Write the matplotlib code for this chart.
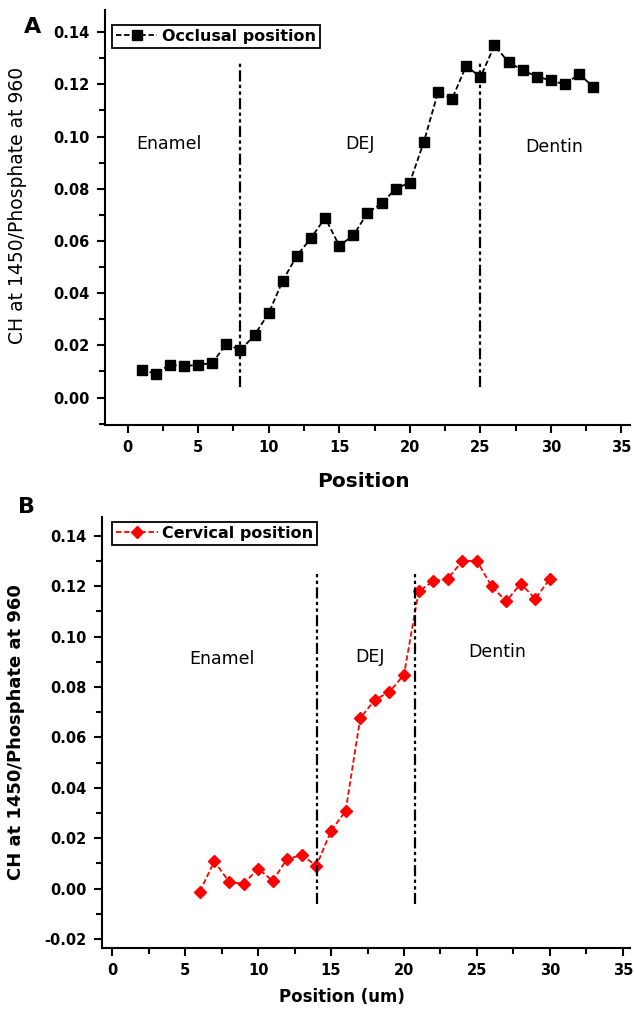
import matplotlib.pyplot as plt
import matplotlib.ticker as ticker

# Data
# Panel A: occlusal position
occlusal_pos = list(range(1, 34))
occlusal_vals = [0.0105, 0.0092, 0.0126, 0.0120, 0.0126, 0.0132, 0.0206, 0.0181,
                 0.0240, 0.0323, 0.0448, 0.0544, 0.0611, 0.0689, 0.0582, 0.0621,
                 0.0708, 0.0744, 0.0800, 0.0824, 0.0980, 0.1170, 0.1145, 0.1272,
                 0.1227, 0.1349, 0.1285, 0.1254, 0.1230, 0.1215, 0.1200, 0.1240,
                 0.1190]

# Panel B: cervical position
cervical_pos = list(range(6, 31))
cervical_vals = [-0.0012, 0.0108, 0.0027, 0.0018, 0.0079, 0.0030, 0.0119, 0.0131,
                 0.0091, 0.0229, 0.0308, 0.0676, 0.0749, 0.0780, 0.0849, 0.1179,
                 0.1220, 0.1230, 0.1300, 0.1300, 0.1200, 0.1140, 0.1210, 0.1150,
                 0.1230]

# Region boundaries (x positions) and their vertical extents
occlusal_bounds = [8, 25]
occlusal_bound_y = (0.004, 0.129)
cervical_bounds = [14.05, 20.75]
cervical_bound_y = (-0.006, 0.126)

# Region names and where they are written (x, y)
region_names = ["Enamel", "DEJ", "Dentin"]
occlusal_text_x = [2.9, 16.5, 30.2]
occlusal_text_y = [0.097, 0.097, 0.096]
cervical_text_x = [7.5, 17.7, 26.4]
cervical_text_y = [0.091, 0.092, 0.094]

ylabel_text = "CH at 1450/Phosphate at 960"

# Common styles
font = "DejaVu Sans"
boundary_style = (0, (5, 1.5, 1.5, 1.5, 1.5, 1.5))
data_style = (0, (3, 1.5))

fig = plt.figure(figsize=(6.34, 10.09), dpi=100)
ax_a = fig.add_axes([0.1656, 0.5788, 0.828, 0.4113])
ax_b = fig.add_axes([0.1609, 0.0605, 0.833, 0.4272])


def style_axis(ax, xlim, ylim, yticks):
    # Only left and bottom spines, ticks pointing out
    for side in ["top", "right"]:
        ax.spines[side].set_visible(False)
    for side in ["left", "bottom"]:
        ax.spines[side].set_linewidth(1.5)
    ax.set_xlim(*xlim)
    ax.set_ylim(*ylim)
    ax.set_xticks(range(0, 36, 5))
    ax.set_yticks(yticks)
    ax.xaxis.set_minor_locator(ticker.MultipleLocator(2.5))
    ax.yaxis.set_minor_locator(ticker.MultipleLocator(0.01))
    ax.yaxis.set_major_formatter(ticker.FormatStrFormatter("%.2f"))
    ax.tick_params(which="major", direction="out", length=6, width=1.5,
                   labelsize=10.5, pad=5)
    ax.tick_params(which="minor", direction="out", length=4, width=1.5)
    for lbl in ax.get_xticklabels() + ax.get_yticklabels():
        lbl.set_family(font)
        lbl.set_fontweight("bold")


# ---- Panel A ----
ax_a.plot(occlusal_pos, occlusal_vals, color="black", linestyle=data_style,
          linewidth=1.3, marker="s", markersize=7, label="Occlusal position")
for bx in occlusal_bounds:
    ax_a.plot([bx, bx], occlusal_bound_y, color="black",
              linestyle=boundary_style, linewidth=1.6)
for name, tx, ty in zip(region_names, occlusal_text_x, occlusal_text_y):
    ax_a.text(tx, ty, name, ha="center", va="center", fontsize=12.5,
              family=font)
style_axis(ax_a, (-1.6, 35.6), (-0.0105, 0.1485),
           [0.00, 0.02, 0.04, 0.06, 0.08, 0.10, 0.12, 0.14])
ax_a.set_xlabel("Position", fontsize=14.5, fontweight="bold", family=font)
ax_a.xaxis.set_label_coords(0.493, -0.113)
ax_a.set_ylabel(ylabel_text, fontsize=13.5, family=font)
ax_a.yaxis.set_label_coords(-0.148, 0.53)
leg_a = ax_a.legend(loc="upper left", bbox_to_anchor=(0.013, 0.964),
                    borderaxespad=0, fancybox=False, edgecolor="black",
                    framealpha=1, handlelength=2.6, handletextpad=0.3,
                    borderpad=0.25, prop={"family": font, "size": 11.5,
                                          "weight": "bold"})
leg_a.get_frame().set_linewidth(1.3)

# ---- Panel B ----
ax_b.plot(cervical_pos, cervical_vals, color="red", linestyle=data_style,
          linewidth=1.3, marker="D", markersize=6.5, label="Cervical position")
for bx in cervical_bounds:
    ax_b.plot([bx, bx], cervical_bound_y, color="black",
              linestyle=boundary_style, linewidth=1.6)
for name, tx, ty in zip(region_names, cervical_text_x, cervical_text_y):
    ax_b.text(tx, ty, name, ha="center", va="center", fontsize=12.5,
              family=font)
style_axis(ax_b, (-0.7, 35.5), (-0.0236, 0.1475),
           [-0.02, 0.00, 0.02, 0.04, 0.06, 0.08, 0.10, 0.12, 0.14])
ax_b.set_xlabel("Position (um)", fontsize=12, fontweight="bold", family=font)
ax_b.xaxis.set_label_coords(0.455, -0.093)
ax_b.set_ylabel(ylabel_text, fontsize=13, fontweight="bold", family=font)
ax_b.yaxis.set_label_coords(-0.145, 0.5)
leg_b = ax_b.legend(loc="upper left", bbox_to_anchor=(0.019, 0.988),
                    borderaxespad=0, fancybox=False, edgecolor="black",
                    framealpha=1, handlelength=2.6, handletextpad=0.3,
                    borderpad=0.25, prop={"family": font, "size": 11.5,
                                          "weight": "bold"})
leg_b.get_frame().set_linewidth(1.3)

# Panel letters
fig.text(33 / 634, 1 - 27 / 1009, "A", fontsize=16, fontweight="bold",
         family=font, ha="center", va="center")
fig.text(26 / 634, 1 - 507 / 1009, "B", fontsize=16, fontweight="bold",
         family=font, ha="center", va="center")

fig.savefig("out.png", dpi=100)
